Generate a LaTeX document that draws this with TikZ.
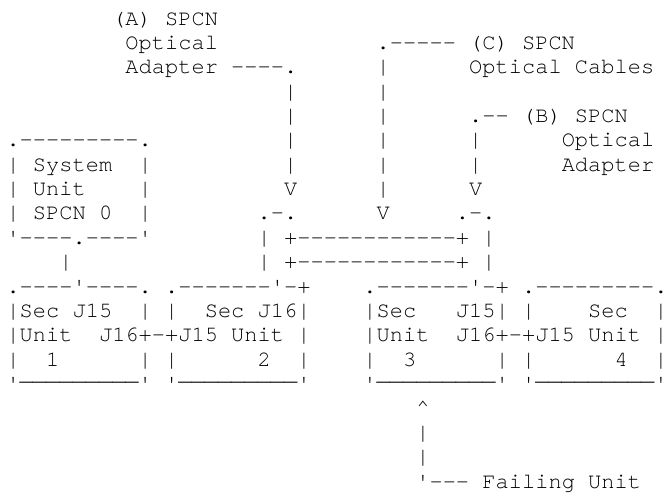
\documentclass[tikz,border=0pt]{standalone}
\usepackage{fontspec}
\setmonofont{TeX Gyre Cursor}
\newlength\cw
\setlength\cw{13.22pt}
% set a string one character per fixed-width cell
\def\chars#1{\ifx#1\relax\else\makebox[\cw][c]{#1}\expandafter\chars\fi}
\newcommand\q{\textquotesingle}
\newcommand\ub{\raisebox{10pt}{\_}}
\tikzset{
  txt/.style={anchor=base west, inner sep=0pt, outer sep=0pt, text=black,
    font=\ttfamily\fontsize{22}{24}\selectfont}
}
\newcommand\seg[4]{\node[txt] (#1) at ({6.5+#3*13.22},{-25-(#2-1)*24.37}) {\chars #4\relax};}
\begin{document}
\begin{tikzpicture}[x=1pt,y=1pt]
\useasboundingbox (0,0) rectangle (667,-493);
% row 1-3: labels
\seg{aA}{1}{8}{(A)~SPCN}
\seg{aOpt}{2}{9}{Optical}
\seg{cTop}{2}{28}{.-----}
\seg{cA}{2}{35}{(C)~SPCN}
\seg{aAd}{3}{9}{Adapter~----.}
\seg{c3}{3}{28}{|}
\seg{cB}{3}{35}{Optical~Cables}
% row 4-5
\seg{a4}{4}{21}{|}
\seg{c4}{4}{28}{|}
\seg{a5}{5}{21}{|}
\seg{c5}{5}{28}{|}
\seg{bA}{5}{35}{.--~(B)~SPCN}
% row 6-9: system unit and arrows
\seg{s6}{6}{0}{.---------.}
\seg{a6}{6}{21}{|}
\seg{c6}{6}{28}{|}
\seg{b6}{6}{35}{|}
\seg{bOpt}{6}{42}{Optical}
\seg{s7}{7}{0}{|~System~~|}
\seg{a7}{7}{21}{|}
\seg{c7}{7}{28}{|}
\seg{b7}{7}{35}{|}
\seg{bAd}{7}{42}{Adapter}
\seg{s8}{8}{0}{|~Unit~~~~|}
\seg{a8}{8}{21}{V}
\seg{c8}{8}{28}{|}
\seg{b8}{8}{35}{V}
\seg{s9}{9}{0}{|~SPCN~0~~|}
\seg{a9}{9}{19}{.-.}
\seg{c9}{9}{28}{V}
\seg{b9}{9}{34}{.-.}
% row 10-11: cable loop
\seg{s10}{10}{0}{\q----.----\q}
\seg{l10}{10}{19}{|~+------------+~|}
\seg{s11}{11}{4}{|}
\seg{l11}{11}{19}{|~+------------+~|}
% row 12-16: units
\seg{u1a}{12}{0}{.----\q----.}
\seg{u2a}{12}{12}{.-------\q-+}
\seg{u3a}{12}{27}{.-------\q-+}
\seg{u4a}{12}{39}{.---------.}
\seg{u1b}{13}{0}{|Sec~J15~~|}
\seg{u2b}{13}{12}{|~~Sec~J16|}
\seg{u3b}{13}{27}{|Sec~~~J15|}
\seg{u4b}{13}{39}{|~~~~Sec~~|}
\seg{u12c}{14}{0}{|Unit~~J16+-+J15~Unit~|}
\seg{u34c}{14}{27}{|Unit~~J16+-+J15~Unit~|}
\seg{u1d}{15}{0}{|~~1~~~~~~|}
\seg{u2d}{15}{12}{|~~~~~~2~~|}
\seg{u3d}{15}{27}{|~~3~~~~~~|}
\seg{u4d}{15}{39}{|~~~~~~4~~|}
\seg{u1e}{16}{0}{\q\ub\ub\ub\ub\ub\ub\ub\ub\ub\q}
\seg{u2e}{16}{12}{\q\ub\ub\ub\ub\ub\ub\ub\ub\ub\q}
\seg{u3e}{16}{27}{\q\ub\ub\ub\ub\ub\ub\ub\ub\ub\q}
\seg{u4e}{16}{39}{\q\ub\ub\ub\ub\ub\ub\ub\ub\ub\q}
% row 17-20: failing unit pointer
\seg{f17}{17}{31}{\textasciicircum}
\seg{f18}{18}{31}{|}
\seg{f19}{19}{31}{|}
\seg{f20}{20}{31}{\q---~Failing~Unit}
\end{tikzpicture}
\end{document}
